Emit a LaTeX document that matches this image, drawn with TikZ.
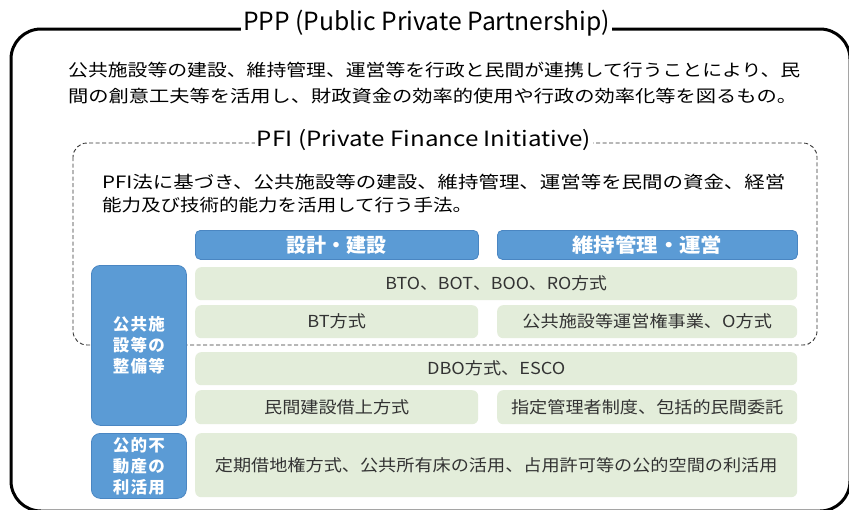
\documentclass[tikz,border=0pt]{standalone}
\usepackage{fontspec}
\usepackage{graphicx}
\setmainfont{Noto Sans CJK JP}
\definecolor{hdrfill}{HTML}{5B9BD5}
\definecolor{hdrline}{HTML}{4A86C2}
\definecolor{cellfill}{HTML}{E3EDDA}
\definecolor{celltext}{HTML}{333333}
\newcommand\wx[2]{\scalebox{#1}[1]{#2}}
\begin{document}
\begin{tikzpicture}[x=1pt,y=-1pt,
  frame/.style={line width=3pt, rounded corners=30pt},
  dframe/.style={dashed, line width=0.9pt, draw=black!80, rounded corners=14pt, dash pattern=on 4pt off 2.5pt},
  titletext/.style={fill=white, inner sep=2pt, text=black},
  bodytext/.style={inner sep=0pt, anchor=west, text=black, font=\fontsize{17}{20}\selectfont},
  hdrbox/.style={draw=hdrline, fill=hdrfill, line width=0.8pt, rounded corners=5pt, text=white, inner sep=0pt, anchor=north west, font=\fontsize{19.5}{20}\selectfont\bfseries},
  sidebox/.style={draw=hdrline, fill=hdrfill, line width=0.8pt, rounded corners=9pt, text=white, inner sep=0pt, anchor=north west, align=center, font=\fontsize{16.5}{21}\selectfont\bfseries\addfontfeatures{LetterSpace=8}},
  cellbox/.style={fill=cellfill, rounded corners=6pt, text=celltext, inner sep=0pt, anchor=north west, font=\fontsize{16.5}{18}\selectfont}
]
\useasboundingbox (0,0) rectangle (849,509);
\fill[white] (0,0) rectangle (849,509);

% outer PPP frame
\draw[frame] (11,29) rectangle (850,511);
\node[titletext, font=\fontsize{25}{28}\selectfont] (ppptitle) at (426.5,23)
  {\resizebox{367pt}{\height}{PPP (Public Private Partnership)}};
\node[bodytext] (pppline1) at (68,70)
  {\resizebox{732pt}{\height}{公共施設等の建設、維持管理、運営等を行政と民間が連携して行うことにより、民}};
\node[bodytext] (pppline2) at (68,96)
  {\resizebox{729pt}{\height}{間の創意工夫等を活用し、財政資金の効率的使用や行政の効率化等を図るもの。}};

% PFI dashed frame
\draw[dframe] (73,143) rectangle (817,345);
\node[titletext, font=\fontsize{21}{24}\selectfont] (pfititle) at (424,140)
  {\resizebox{334pt}{\height}{PFI (Private Finance Initiative)}};
\node[bodytext] (pfiline1) at (102,182)
  {\resizebox{683pt}{\height}{PFI法に基づき、公共施設等の建設、維持管理、運営等を民間の資金、経営}};
\node[bodytext] (pfiline2) at (102,205)
  {\resizebox{370pt}{\height}{能力及び技術的能力を活用して行う手法。}};

% headers
\node[hdrbox, minimum width=283pt, minimum height=29pt] (design) at (195,230) {\resizebox{100pt}{\height}{設計・建設}};
\node[hdrbox, minimum width=300pt, minimum height=29pt] (operate) at (497,230) {\resizebox{150pt}{\height}{維持管理・運営}};

% side boxes
\node[sidebox, minimum width=95pt, minimum height=160pt] (facility) at (91,265) {公共施\\設等の\\整備等};
\node[sidebox, minimum width=95pt, minimum height=65pt] (realestate) at (91,433) {公的不\\動産の\\利活用};

% cells
\node[cellbox, minimum width=602pt, minimum height=33pt] (bto) at (195,267) {\wx{1.08}{BTO、BOT、BOO、RO方式}};
\node[cellbox, minimum width=283pt, minimum height=33pt] (bt) at (195,305) {\wx{1.1}{BT方式}};
\node[cellbox, minimum width=300pt, minimum height=33pt] (concession) at (497,305) {\wx{1.1}{公共施設等運営権事業、O方式}};
\node[cellbox, minimum width=602pt, minimum height=33pt] (dbo) at (195,352) {\wx{1.1}{DBO方式、ESCO}};
\node[cellbox, minimum width=283pt, minimum height=34pt] (lease) at (195,390) {\wx{1.1}{民間建設借上方式}};
\node[cellbox, minimum width=300pt, minimum height=34pt] (designated) at (497,390) {\wx{1.1}{指定管理者制度、包括的民間委託}};
\node[cellbox, minimum width=602pt, minimum height=64pt] (land) at (195,433) {\wx{1.1}{定期借地権方式、公共所有床の活用、占用許可等の公的空間の利活用}};
\end{tikzpicture}
\end{document}
